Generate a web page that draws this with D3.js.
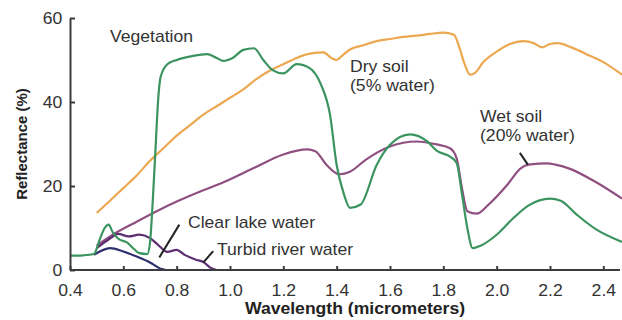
<!DOCTYPE html>
<html>
<head>
<meta charset="utf-8">
<script src="https://cdn.jsdelivr.net/npm/d3@7"></script>
<style>
  html, body { margin: 0; padding: 0; background: #fff; }
  svg { display: block; font-family: "Liberation Sans", Arial, sans-serif; }
</style>
</head>
<body>
<svg id="chart" width="622" height="320"></svg>
<script>
// Spectral reflectance curves: wavelength (micrometers) vs reflectance (%)
const xTicks = [0.4, 0.6, 0.8, 1.0, 1.2, 1.4, 1.6, 1.8, 2.0, 2.2, 2.4];
const yTicks = [0, 20, 40, 60];

const vegetationWl = [0.40, 0.45, 0.49, 0.51, 0.53, 0.545, 0.56, 0.58, 0.615, 0.64, 0.66, 0.69, 0.70, 0.71, 0.72, 0.73, 0.74, 0.765, 0.80, 0.862, 0.914, 0.95, 0.975, 1.01, 1.05, 1.09, 1.125, 1.16, 1.20, 1.25, 1.30, 1.34, 1.375, 1.40, 1.425, 1.45, 1.49, 1.55, 1.60, 1.675, 1.74, 1.775, 1.825, 1.85, 1.87, 1.89, 1.91, 1.94, 2.00, 2.06, 2.12, 2.20, 2.24, 2.30, 2.37, 2.47];
const vegetationR  = [3.4, 3.5, 3.8, 7, 10, 10.8, 9, 7.5, 6.5, 5, 4, 3.8, 6.5, 16, 28, 40, 46, 49, 50, 51, 51.4, 50.5, 49.8, 50.5, 52.4, 52.8, 50, 47.6, 46.8, 49, 48, 44.3, 37, 25, 18.5, 14.8, 15.6, 25, 29.8, 32.3, 30.6, 28.4, 27, 25.5, 18, 10, 5.2, 5.8, 8.4, 12.2, 15.4, 17, 16.5, 13.2, 9.8, 6.7];

const drySoilWl = [0.50, 0.55, 0.60, 0.65, 0.70, 0.75, 0.80, 0.85, 0.90, 0.95, 1.00, 1.05, 1.10, 1.15, 1.20, 1.25, 1.30, 1.35, 1.38, 1.40, 1.42, 1.45, 1.50, 1.55, 1.60, 1.65, 1.70, 1.75, 1.80, 1.84, 1.86, 1.88, 1.90, 1.92, 1.95, 2.00, 2.05, 2.10, 2.14, 2.17, 2.20, 2.23, 2.28, 2.35, 2.40, 2.47];
const drySoilR  = [13.6, 16.5, 19.5, 22.5, 26, 29, 32, 34.5, 37, 39, 41, 43, 45.5, 47.5, 49, 50.5, 51.5, 51.8, 50.5, 50, 51, 52.5, 53.5, 54.5, 55, 55.5, 55.8, 56.2, 56.5, 56, 53, 49, 46.5, 47, 49.5, 52, 53.8, 54.5, 54, 53, 53.8, 54, 53, 51, 49.5, 46.5];

const wetSoilWl = [0.50, 0.56, 0.65, 0.80, 0.90, 0.965, 1.087, 1.20, 1.29, 1.32, 1.36, 1.41, 1.45, 1.51, 1.60, 1.70, 1.775, 1.825, 1.85, 1.87, 1.89, 1.925, 1.97, 2.04, 2.09, 2.12, 2.19, 2.22, 2.27, 2.37, 2.47];
const wetSoilR  = [5.8, 8.4, 11.5, 16.3, 19, 20.6, 24.2, 27.5, 28.7, 28.3, 25.2, 22.8, 23.4, 26.3, 29.4, 30.6, 29.9, 29, 26.6, 19.4, 14, 13.4, 15.6, 20.3, 24.2, 25.1, 25.4, 25.1, 24.2, 21, 17];

const clearLakeWl = [0.49, 0.55, 0.60, 0.65, 0.70, 0.74, 0.76];
const clearLakeR  = [3.6, 5.2, 4.4, 3.2, 1.8, 0.3, 0];

const turbidWl = [0.50, 0.55, 0.58, 0.62, 0.66, 0.70, 0.73, 0.765, 0.80, 0.83, 0.87, 0.90, 0.93, 0.95];
const turbidR  = [5.2, 7.5, 8.6, 8.0, 8.4, 7.6, 6.0, 4.3, 4.8, 3.6, 2.5, 1.9, 0.4, 0];

const svg = d3.select("#chart");
const x = d3.scaleLinear().domain([0.4, 2.47]).range([70, 622]);
const y = d3.scaleLinear().domain([0, 60]).range([270, 18]);

// Horizontal text is drawn slightly wide
const WIDE = "scale(1.1,1)";

const zip = (wl, r) => wl.map((w, i) => [w, r[i]]);
const line = d3.line().x(d => x(d[0])).y(d => y(d[1])).curve(d3.curveMonotoneX);

const series = [
  { data: zip(drySoilWl, drySoilR), color: "#eba851" },
  { data: zip(wetSoilWl, wetSoilR), color: "#8f4f80" },
  { data: zip(clearLakeWl, clearLakeR), color: "#2d2f6e" },
  { data: zip(turbidWl, turbidR), color: "#5e2f72" },
  { data: zip(vegetationWl, vegetationR), color: "#3b9460" }
];

svg.append("g").selectAll("path").data(series).join("path")
  .attr("d", d => line(d.data))
  .attr("fill", "none")
  .attr("stroke", d => d.color)
  .attr("stroke-width", 2.2)
  .attr("stroke-linejoin", "round");

// Axes
const axisColor = "#3a3a3f";
const gx = svg.append("g").attr("transform", `translate(0,${y(0)})`)
  .call(d3.axisBottom(x).tickValues(xTicks).tickFormat(d3.format(".1f"))
    .tickSizeInner(-4).tickSizeOuter(0).tickPadding(15));
const gy = svg.append("g").attr("transform", `translate(${x(0.4)},0)`)
  .call(d3.axisLeft(y).tickValues(yTicks).tickSizeInner(-5).tickSizeOuter(0).tickPadding(7));

[gx, gy].forEach(g => {
  g.select(".domain").attr("stroke", axisColor).attr("stroke-width", 2);
  g.selectAll(".tick line").attr("stroke", axisColor).attr("stroke-width", 2);
  g.selectAll(".tick text").attr("fill", "#333").style("font-size", "16px")
    .style("font-family", "'Liberation Sans', Arial, sans-serif")
    .attr("transform", WIDE);
});
gx.select(".domain").attr("d", `M${x(0.4)},0H620`);

// Axis titles
svg.append("text")
  .attr("transform", `translate(355,314) ${WIDE}`)
  .attr("text-anchor", "middle")
  .attr("font-size", 16).attr("font-weight", "bold").attr("fill", "#222")
  .text("Wavelength (micrometers)");
svg.append("text")
  .attr("transform", `translate(27,${(y(0) + y(60)) / 2}) rotate(-90)`)
  .attr("text-anchor", "middle")
  .attr("font-size", 15).attr("font-weight", "bold").attr("fill", "#222")
  .text("Reflectance (%)");

// Curve labels
const labels = [
  { lines: ["Vegetation"], x: 110, y: 42 },
  { lines: ["Dry soil", "(5% water)"], x: 350, y: 72 },
  { lines: ["Wet soil", "(20% water)"], x: 480, y: 122 },
  { lines: ["Clear lake water"], x: 188, y: 228 },
  { lines: ["Turbid river water"], x: 217, y: 255 }
];
const lt = svg.append("g").attr("fill", "#333").attr("font-size", 16);
labels.forEach(l => {
  const t = lt.append("text").attr("transform", `translate(${l.x},${l.y}) ${WIDE}`);
  l.lines.forEach((s, i) => t.append("tspan").attr("x", 0).attr("y", i * 19).text(s));
});

// Leader lines from labels to their curves
const leaders = [
  [[0.81, 10.8], [0.735, 3.0]],
  [[0.937, 4.5], [0.90, 1.8]],
  [[2.087, 27.9], [2.117, 25.1]]
];
svg.append("g").selectAll("path").data(leaders).join("path")
  .attr("d", d => d3.line().x(p => x(p[0])).y(p => y(p[1]))(d))
  .attr("stroke", "#222").attr("stroke-width", 2).attr("fill", "none");
</script>
</body>
</html>
